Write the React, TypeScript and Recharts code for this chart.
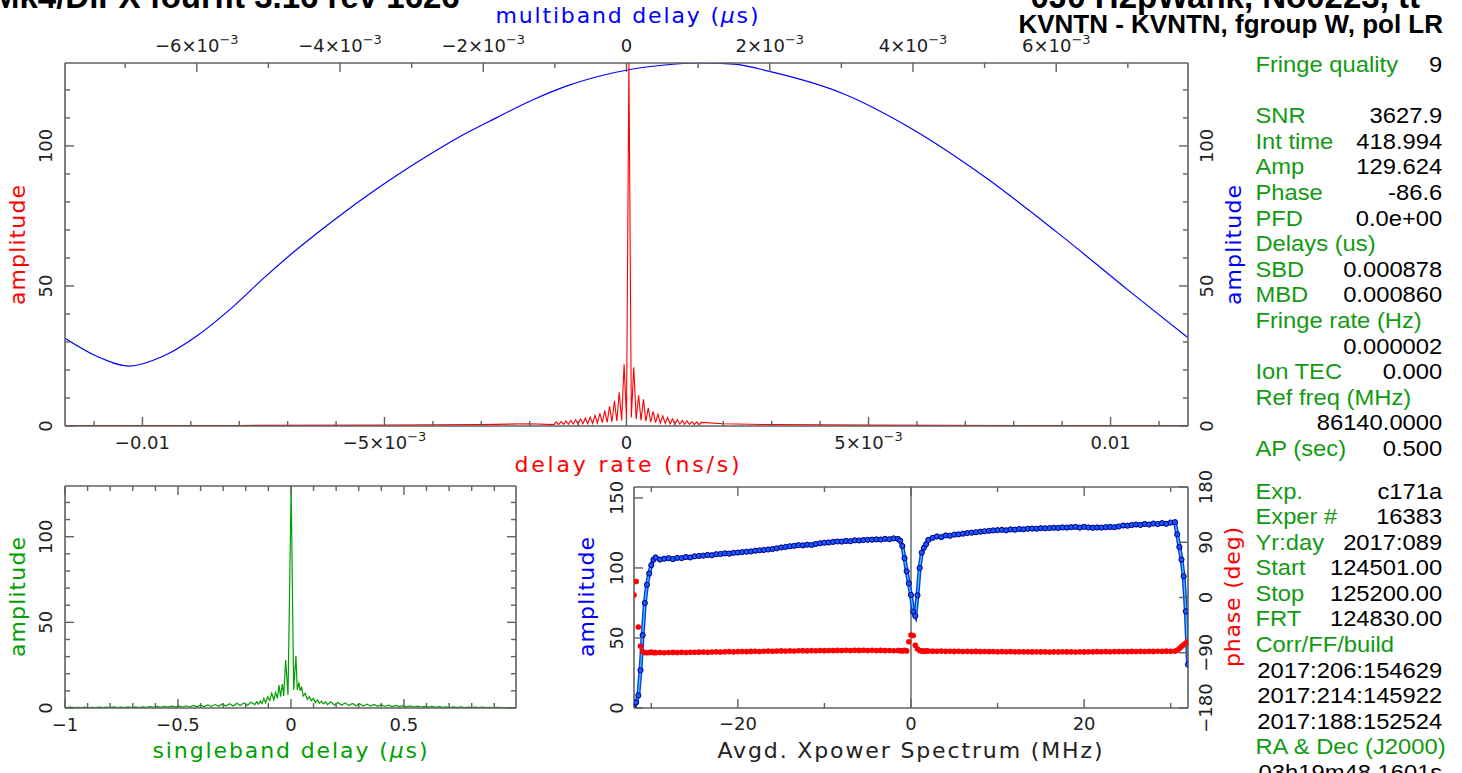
import React from 'react';
import { LineChart, Line, XAxis, YAxis, ReferenceLine, Label } from 'recharts';

const PG = '"DejaVu Sans", "Liberation Sans", sans-serif';
const HV = '"Liberation Sans", Arial, Helvetica, sans-serif';
const RED = '#ff0000';
const BLUE = '#0000ff';
const GREEN = '#00a000';
const TGREEN = '#139a13';
const AXIS = '#606060';
const TXT = '#222222';

// ---------------- main plot: delay rate (red) ----------------
const rateOuterLeftX = [-0.0116, -0.008, -0.005, -0.003, -0.002];
const rateOuterLeftAmp = [0.15, 0.2, 0.3, 0.5, 0.8];
const rateCenterStart = -0.0015;
const rateCenterStep = 0.00005;
const rateCenterAmp = [
  0.5, 1.5, 0.5, 1.6, 0.6, 1.8, 0.6, 2.0, 0.7, 2.2, 0.7, 2.5, 0.8, 2.8, 0.8, 3.2,
  0.9, 3.8, 1.0, 4.5, 1.2, 5.5, 1.3, 7.0, 1.5, 9.0, 1.8, 12.0, 2.0, 22.0, 2.5,
  129.6,
  3.0, 21.0, 2.5, 11.0, 2.0, 9.5, 1.7, 6.5, 1.4, 5.2, 1.2, 4.2, 1.0, 3.6, 0.9, 3.0,
  0.8, 2.6, 0.7, 2.3, 0.7, 2.0, 0.6, 1.8, 0.6, 1.6, 0.5, 1.5, 0.5, 1.3,
];
const rateOuterRightX = [0.002, 0.003, 0.005, 0.008, 0.0116];
const rateOuterRightAmp = [0.8, 0.5, 0.3, 0.2, 0.15];

// ---------------- main plot: multiband delay (blue) ----------------
const mbdX = [
  -0.00784, -0.00739, -0.00694, -0.00648, -0.00598, -0.00552, -0.00507, -0.00461, -0.00405,
  -0.00349, -0.00284, -0.00233, -0.00182, -0.00132, -0.00081, -0.0003, 0.00003, 0.0005, 0.00101,
  0.0015, 0.00201, 0.00301, 0.00401, 0.005, 0.006, 0.007, 0.00784,
];
const mbdAmp = [
  31.3, 24.8, 21.4, 24.8, 32.5, 42.0, 52.7, 62.9, 74.2, 84.6, 95.5, 103.3, 110.0, 116.3,
  121.6, 125.4, 127.2, 128.8, 129.6, 129.2, 126.5, 118.8, 105.7, 89.0, 69.4, 48.6, 31.5,
];

// ---------------- singleband delay (green) ----------------
const sbdLeftStart = -0.992;
const sbdStep = 0.016;
const sbdLeftAmp = [
  0.2, 0.5, 0.2, 0.4, 0.2, 0.5, 0.3, 0.4, 0.2, 0.5, 0.3, 0.5, 0.2, 0.6, 0.3, 0.5, 0.3, 0.6,
  0.3, 0.7, 0.3, 0.6, 0.4, 0.8, 0.4,
  0.9, 0.4, 1.0, 0.5, 1.1, 0.5, 1.2, 0.6, 1.3, 0.6, 1.5, 0.7, 1.6,
  0.8, 1.8, 0.9, 2.0, 1.0, 2.3, 1.1, 2.5, 1.2, 2.8, 1.4, 3.0, 1.6, 3.3,
];
const sbdCenterX = [
  -0.16, -0.152, -0.144, -0.136, -0.128, -0.12, -0.112, -0.103, -0.094, -0.085, -0.076,
  -0.068, -0.06, -0.053, -0.046, -0.038, -0.032, -0.0235, -0.013, 0.0009, 0.012, 0.022,
  0.028, 0.035, 0.041, 0.047, 0.054, 0.063, 0.072, 0.081, 0.09, 0.099, 0.108, 0.117, 0.126,
  0.135, 0.144, 0.153, 0.162,
];
const sbdCenterAmp = [
  2.0, 3.6, 2.2, 4.0, 2.6, 5.6, 3.1, 6.6, 4.3, 8.6, 4.7, 9.0, 5.6, 13.4, 6.6, 14.0, 7.0,
  28.0, 7.6, 129.6, 10.5, 30.5, 10.5, 15.0, 10.0, 12.5, 7.0, 8.6, 5.0, 6.6, 4.3, 5.6, 3.1,
  4.6, 2.7, 4.0, 2.4, 3.5, 2.0,
];
const sbdRightStart = 0.176;
const sbdRightAmp = [
  3.6, 1.8, 3.2, 1.6, 3.0, 1.5, 2.7, 1.3, 2.5, 1.2, 2.3, 1.1, 2.1, 1.0,
  1.9, 0.9, 1.7, 0.8, 1.5, 0.8, 1.4, 0.7, 1.2, 0.6, 1.1, 0.6, 1.0,
  0.5, 0.9, 0.4, 0.8, 0.4, 0.7, 0.3, 0.7, 0.3, 0.6, 0.3, 0.5, 0.3, 0.5, 0.2, 0.5, 0.2, 0.4,
  0.2, 0.4, 0.2, 0.3, 0.2, 0.3, 0.2,
];

// ---------------- cross-power spectrum ----------------
const lsbEdgeF = [-32, -31.75, -31.5, -31.25, -31, -30.75, -30.5, -30.25, -30, -29.75];
const lsbEdgeAmp = [0, 4, 9, 27, 52, 75, 88, 96, 102, 106];
const lsbEdgePh = [4, 26, -48, -79, -88, -90, -90, -89.5, -89, -90];
const platStep = 0.5;
const lsbPlatStart = -29.5;
const lsbPlatAmp = [
  107.5, 106.0, 106.6, 107.0, 106.3, 107.2, 107.0, 107.8, 107.5, 108.3,
  108.6, 108.8, 109.3, 109.1, 109.8, 110.0, 110.4, 110.2, 110.8, 111.0,
  111.3, 111.6, 111.8, 112.3, 112.6, 112.8, 113.2, 113.5, 114.0, 114.6,
  115.0, 115.5, 115.8, 116.3, 116.1, 116.6, 116.4, 117.1, 117.6, 118.0,
  118.2, 118.6, 118.9, 118.8, 119.3, 119.1, 119.7, 119.6, 119.9, 120.1,
  120.2, 120.4, 120.3, 120.8, 120.5, 121.1, 120.7,
];
const lsbPlatPh = [
  -89.8, -89.5, -90.0, -89.6, -89.4, -89.7, -89.2, -89.5, -89.1, -89.3,
  -89.0, -88.8, -89.1, -88.7, -88.5, -88.8, -88.4, -88.2, -88.5, -88.1,
  -87.9, -88.2, -87.8, -87.6, -87.9, -87.5, -87.3, -87.6, -87.2, -87.0,
  -87.3, -86.9, -87.1, -86.8, -86.6, -86.9, -86.5, -86.7, -86.4, -86.6,
  -86.3, -86.5, -86.2, -86.4, -86.1, -86.3, -86.0, -86.2, -86.0, -86.3,
  -86.1, -86.4, -86.2, -86.5, -86.3, -86.8, -86.4,
];
const dipF = [-1.25, -1.0, -0.75, -0.5, -0.25, 0, 0.25, 0.5, 0.75, 1.0, 1.25, 1.5, 1.75, 2.0];
const dipAmp = [119.5, 115.7, 107, 97.6, 89, 80.7, 68.8, 65.7, 80.5, 100, 111, 114.5, 117, 120];
const dipPh = [-86.5, -87, -86, -87, -72, -61, -62, -78, -84, -86.5, -87, -87.5, -87, -87.3];
const usbPlatStart = 2.5;
const usbPlatAmp = [
  121.5, 122.5, 122.0, 123.2, 123.0, 123.8, 124.0, 124.5, 124.9, 125.2,
  125.5, 125.9, 126.2, 126.5, 126.8, 127.0, 127.2, 126.9, 127.5, 127.3,
  127.8, 127.6, 128.0, 128.1, 128.0, 128.4, 128.3, 128.5, 128.7, 128.6,
  128.9, 128.8, 129.1, 129.3, 128.8, 129.4, 128.9, 128.7, 128.9, 128.8,
  129.1, 129.3, 129.1, 129.6, 130.3, 130.2, 130.6, 131.0, 130.7, 131.4,
  131.0, 131.7, 131.3, 132.0, 131.5, 132.4, 132.7,
];
const usbPlatPh = [
  -87.4, -87.6, -87.3, -87.7, -87.5, -87.8, -87.6, -87.9, -87.7, -88.0,
  -87.8, -88.1, -88.0, -88.2, -88.0, -88.3, -88.1, -88.4, -88.2, -88.5,
  -88.3, -88.5, -88.4, -88.6, -88.4, -88.6, -88.5, -88.7, -88.5, -88.6,
  -88.4, -88.6, -88.5, -88.7, -88.4, -88.6, -88.3, -88.5, -88.2, -88.4,
  -88.1, -88.3, -88.0, -88.2, -87.9, -88.1, -87.8, -88.0, -87.7, -87.9,
  -87.6, -87.8, -87.5, -87.7, -87.4, -87.6, -87.3,
];
const usbEdgeF = [30.75, 31, 31.25, 31.5, 31.75, 32];
const usbEdgeAmp = [124, 115, 106, 94, 69, 31];
const usbEdgePh = [-86, -83, -80, -77, -74, -72];

// ---------------- ticks ----------------
const rateTicks = [-0.011, -0.01, -0.009, -0.008, -0.007, -0.006, -0.005, -0.004, -0.003, -0.002, -0.001, 0, 0.001, 0.002, 0.003, 0.004, 0.005, 0.006, 0.007, 0.008, 0.009, 0.01, 0.011];
const rateMajors = [-0.01, -0.005, 0, 0.005, 0.01];
const rateLabels = [
  { v: -0.01, t: '−0.01' }, { v: -0.005, t: '−5×10', s: '−3' }, { v: 0, t: '0' },
  { v: 0.005, t: '5×10', s: '−3' }, { v: 0.01, t: '0.01' },
];
const mbdTicks = [-0.007, -0.006, -0.005, -0.004, -0.003, -0.002, -0.001, 0, 0.001, 0.002, 0.003, 0.004, 0.005, 0.006, 0.007];
const mbdMajors = [-0.006, -0.004, -0.002, 0, 0.002, 0.004, 0.006];
const mbdLabels = [
  { v: -0.006, t: '−6×10', s: '−3' }, { v: -0.004, t: '−4×10', s: '−3' }, { v: -0.002, t: '−2×10', s: '−3' },
  { v: 0, t: '0' }, { v: 0.002, t: '2×10', s: '−3' }, { v: 0.004, t: '4×10', s: '−3' }, { v: 0.006, t: '6×10', s: '−3' },
];
const ampTicks = [0, 10, 20, 30, 40, 50, 60, 70, 80, 90, 100, 110, 120];
const ampMajors = [0, 50, 100];
const ampLabels = [{ v: 0, t: '0' }, { v: 50, t: '50' }, { v: 100, t: '100' }];
const sbdTicks = [-1, -0.9, -0.8, -0.7, -0.6, -0.5, -0.4, -0.3, -0.2, -0.1, 0, 0.1, 0.2, 0.3, 0.4, 0.5, 0.6, 0.7, 0.8, 0.9];
const sbdMajors = [-1, -0.5, 0, 0.5];
const sbdLabels = [{ v: -1, t: '−1' }, { v: -0.5, t: '−0.5' }, { v: 0, t: '0' }, { v: 0.5, t: '0.5' }];
const specTicks = [-30, -20, -10, 0, 10, 20, 30];
const specMajors = [-20, 0, 20];
const specLabels = [{ v: -20, t: '−20' }, { v: 0, t: '0' }, { v: 20, t: '20' }];
const specAmpTicks = [0, 50, 100, 150];
const specAmpLabels = [{ v: 0, t: '0' }, { v: 50, t: '50' }, { v: 100, t: '100' }, { v: 150, t: '150' }];
const phaseTicks = [-180, -90, 0, 90, 180];
const phaseLabels = [{ v: -180, t: '−180' }, { v: -90, t: '−90' }, { v: 0, t: '0' }, { v: 90, t: '90' }, { v: 180, t: '180' }];

// ---------------- text panel ----------------
const panelTop = [
  ['Fringe quality', '9'], ['', ''], ['SNR', '3627.9'], ['Int time', '418.994'], ['Amp', '129.624'],
  ['Phase', '-86.6'], ['PFD', '0.0e+00'], ['Delays (us)', ''], ['SBD', '0.000878'], ['MBD', '0.000860'],
  ['Fringe rate (Hz)', ''], ['', '0.000002'], ['Ion TEC', '0.000'], ['Ref freq (MHz)', ''],
  ['', '86140.0000'], ['AP (sec)', '0.500'],
];
const panelBottom = [
  ['Exp.', 'c171a'], ['Exper #', '16383'], ['Yr:day', '2017:089'], ['Start', '124501.00'],
  ['Stop', '125200.00'], ['FRT', '124830.00'], ['Corr/FF/build', ''], ['', '2017:206:154629'],
  ['', '2017:214:145922'], ['', '2017:188:152524'], ['RA & Dec (J2000)', ''], ['', '03h19m48.1601s'],
];

// ---------------- build datasets ----------------
const grid = (start: number, step: number, n: number) => Array.from({ length: n }, (_, i) => +(start + i * step).toFixed(6));

const rateX = [...rateOuterLeftX, ...grid(rateCenterStart, rateCenterStep, rateCenterAmp.length), ...rateOuterRightX];
const rateY = [...rateOuterLeftAmp, ...rateCenterAmp, ...rateOuterRightAmp];
const rateData = rateX.map((rate, i) => ({ rate, amp: rateY[i] }));
const mbdData = mbdX.map((mbd, i) => ({ mbd, amp: mbdAmp[i] }));

const sbdX = [...grid(sbdLeftStart, sbdStep, sbdLeftAmp.length), ...sbdCenterX, ...grid(sbdRightStart, sbdStep, sbdRightAmp.length)];
const sbdY = [...sbdLeftAmp, ...sbdCenterAmp, ...sbdRightAmp];
const sbdData = sbdX.map((d, i) => ({ d, amp: sbdY[i] }));

const specF = [...lsbEdgeF, ...grid(lsbPlatStart, platStep, lsbPlatAmp.length), ...dipF, ...grid(usbPlatStart, platStep, usbPlatAmp.length), ...usbEdgeF];
const specA = [...lsbEdgeAmp, ...lsbPlatAmp, ...dipAmp, ...usbPlatAmp, ...usbEdgeAmp];
const specP = [...lsbEdgePh, ...lsbPlatPh, ...dipPh, ...usbPlatPh, ...usbEdgePh];
const specData = specF.map((f, i) => ({ f, amp: specA[i], ph: specP[i] }));

// ---------------- custom ticks ----------------
type Lab = { v: number; t: string; s?: string };
type Side = 'bottom' | 'top' | 'left' | 'right';
const near = (a: number, b: number) => Math.abs(a - b) < 1e-9;

function tickFactory(side: Side, majors: number[], labels: Lab[] | null, off: number, fs = 18, maj = 9, min = 5) {
  return function Tick(props: any) {
    const { x, y, payload } = props;
    const v = Number(payload.value);
    const isMaj = majors.some((m) => near(m, v));
    const len = isMaj ? maj : min;
    const lab = labels ? labels.find((l) => near(l.v, v)) : undefined;
    const content = lab ? (
      <>
        {lab.t}
        {lab.s ? <tspan dy={-8} fontSize={fs * 0.72}>{lab.s}</tspan> : null}
      </>
    ) : null;
    const common = { fill: TXT, fontFamily: PG, fontSize: fs, textAnchor: 'middle' as const };
    let line: React.ReactNode = null;
    let text: React.ReactNode = null;
    if (side === 'bottom') {
      line = <line x1={x} y1={y} x2={x} y2={y - len} stroke={AXIS} strokeWidth={1.4} />;
      if (lab) text = <text x={x} y={y + off} {...common}>{content}</text>;
    } else if (side === 'top') {
      line = <line x1={x} y1={y} x2={x} y2={y + len} stroke={AXIS} strokeWidth={1.4} />;
      if (lab) text = <text x={x} y={y - off} {...common}>{content}</text>;
    } else if (side === 'left') {
      line = <line x1={x} y1={y} x2={x + len} y2={y} stroke={AXIS} strokeWidth={1.4} />;
      if (lab) text = <text x={x - off} y={y} transform={`rotate(-90 ${x - off} ${y})`} {...common}>{content}</text>;
    } else {
      line = <line x1={x} y1={y} x2={x - len} y2={y} stroke={AXIS} strokeWidth={1.4} />;
      if (lab) text = <text x={x + off} y={y} transform={`rotate(-90 ${x + off} ${y})`} {...common}>{content}</text>;
    }
    return <g>{line}{text}</g>;
  };
}

const axisLine = { stroke: AXIS, strokeWidth: 1.6 };
const axisCommon = { tickLine: false, tickSize: 0, tickMargin: 0, interval: 0 as const, axisLine, allowDataOverflow: true };

const title = (txt: React.ReactNode, x: number, y: number, color: string, len: number, rot = false, size = 22) => (
  <Label
    content={() => (
      <text x={x} y={y} fill={color} fontFamily={PG} fontSize={size} textAnchor="middle" textLength={len} lengthAdjust="spacing"
        transform={rot ? `rotate(-90 ${x} ${y})` : undefined}>{txt}</text>
    )}
  />
);

function MainPlot() {
  return (
    <LineChart width={1262} height={485} margin={{ top: 0, right: 0, bottom: 0, left: 0 }}>
      <XAxis xAxisId="rate" dataKey="rate" type="number" orientation="bottom" height={59}
        domain={[-0.0116, 0.0116]} ticks={rateTicks} tick={tickFactory('bottom', rateMajors, rateLabels, 23)} {...axisCommon}>
        {title('delay rate (ns/s)', 627, 472, RED, 225)}
      </XAxis>
      <XAxis xAxisId="mbd" dataKey="mbd" type="number" orientation="top" height={63}
        domain={[-0.00784, 0.00784]} ticks={mbdTicks} tick={tickFactory('top', mbdMajors, mbdLabels, 11)} {...axisCommon}>
        {title(<>multiband delay (<tspan fontStyle="italic">μ</tspan>s)</>, 627, 23, BLUE, 263)}
      </XAxis>
      <YAxis yAxisId="L" orientation="left" width={65} type="number" domain={[0, 129.6]} ticks={ampTicks}
        tick={tickFactory('left', ampMajors, ampLabels, 13)} {...axisCommon}>
        {title('amplitude', 25, 245, RED, 120, true)}
      </YAxis>
      <YAxis yAxisId="R" orientation="right" width={74} type="number" domain={[0, 129.6]} ticks={ampTicks}
        tick={tickFactory('right', ampMajors, ampLabels, 25)} {...axisCommon}>
        {title('amplitude', 1241, 245, BLUE, 120, true)}
      </YAxis>
      <Line data={mbdData} xAxisId="mbd" yAxisId="R" dataKey="amp" type="monotone" stroke={BLUE} strokeWidth={1.2}
        dot={false} activeDot={false} isAnimationActive={false} />
      <Line data={rateData} xAxisId="rate" yAxisId="L" dataKey="amp" type="linear" stroke={RED} strokeWidth={1.1}
        dot={false} activeDot={false} isAnimationActive={false} />
    </LineChart>
  );
}

function SbdPlot() {
  return (
    <LineChart width={530} height={303} data={sbdData} margin={{ top: 0, right: 0, bottom: 0, left: 0 }}>
      <XAxis xAxisId="b" dataKey="d" type="number" orientation="bottom" height={65} domain={[-1, 0.996]}
        ticks={sbdTicks} tick={tickFactory('bottom', sbdMajors, sbdLabels, 23)} {...axisCommon}>
        {title(<>singleband delay (<tspan fontStyle="italic">μ</tspan>s)</>, 290, 288, GREEN, 275)}
      </XAxis>
      <XAxis xAxisId="t" dataKey="d" type="number" orientation="top" height={16} domain={[-1, 0.996]}
        ticks={sbdTicks} tick={tickFactory('top', sbdMajors, null, 0)} {...axisCommon} />
      <YAxis yAxisId="l" orientation="left" width={65} type="number" domain={[0, 129.6]} ticks={ampTicks}
        tick={tickFactory('left', ampMajors, ampLabels, 13)} {...axisCommon}>
        {title('amplitude', 25, 127, GREEN, 120, true)}
      </YAxis>
      <YAxis yAxisId="r" orientation="right" width={14} type="number" domain={[0, 129.6]} ticks={ampTicks}
        tick={tickFactory('right', ampMajors, null, 0)} {...axisCommon} />
      <Line xAxisId="b" yAxisId="l" dataKey="amp" type="linear" stroke={GREEN} strokeWidth={1.2}
        dot={false} activeDot={false} isAnimationActive={false} />
    </LineChart>
  );
}

function SpecPlot() {
  return (
    <LineChart width={700} height={303} data={specData} margin={{ top: 0, right: 0, bottom: 0, left: 0 }}>
      <XAxis xAxisId="b" dataKey="f" type="number" orientation="bottom" height={65} domain={[-32, 32]}
        ticks={specTicks} tick={tickFactory('bottom', specMajors, specLabels, 22)} {...axisCommon}>
        {title('Avgd. Xpower Spectrum (MHz)', 350, 288, TXT, 385)}
      </XAxis>
      <XAxis xAxisId="t" dataKey="f" type="number" orientation="top" height={17} domain={[-32, 32]}
        ticks={specTicks} tick={tickFactory('top', specMajors, null, 0)} {...axisCommon} />
      <YAxis yAxisId="amp" orientation="left" width={74} type="number" domain={[0, 157.8]} ticks={specAmpTicks}
        tick={tickFactory('left', specAmpTicks, specAmpLabels, 11)} {...axisCommon}>
        {title('amplitude', 34, 127, BLUE, 120, true)}
      </YAxis>
      <YAxis yAxisId="ph" orientation="right" width={72} type="number" domain={[-180, 180]} ticks={phaseTicks}
        tick={tickFactory('right', phaseTicks, phaseLabels, 24)} {...axisCommon}>
        {title('phase (deg)', 680, 127, RED, 140, true)}
      </YAxis>
      <ReferenceLine xAxisId="b" yAxisId="amp" x={0} stroke="#444444" strokeWidth={1.2} />
      <Line xAxisId="b" yAxisId="ph" dataKey="ph" type="linear" stroke="none" strokeWidth={0}
        dot={{ r: 2.8, fill: RED, stroke: RED, strokeWidth: 0 }} activeDot={false} isAnimationActive={false} />
      <Line xAxisId="b" yAxisId="amp" dataKey="amp" type="linear" stroke="#1438e0" strokeWidth={4}
        dot={{ r: 2.6, fill: '#1a55ff', stroke: '#00007a', strokeWidth: 1 }} activeDot={false} isAnimationActive={false} />
      <Line xAxisId="b" yAxisId="amp" dataKey="amp" type="linear" stroke="#22e0ff" strokeWidth={1.2}
        dot={false} activeDot={false} isAnimationActive={false} />
    </LineChart>
  );
}

function Panel({ rows, top }: { rows: string[][]; top: number }) {
  return (
    <div style={{ position: 'absolute', left: 1250, top, width: 178, transform: 'scaleX(1.08)', transformOrigin: 'left top',
      fontFamily: HV, fontSize: 22, lineHeight: '25.6px', whiteSpace: 'nowrap' }}>
      {rows.map(([k, v], i) => (
        <div key={i} style={{ position: 'relative', height: 25.6 }}>
          <span style={{ position: 'absolute', left: 5, color: TGREEN }}>{k}</span>
          <span style={{ position: 'absolute', right: 0, color: '#000' }}>{v}</span>
        </div>
      ))}
    </div>
  );
}

export default function App() {
  return (
    <div style={{ position: 'absolute', left: 0, top: 0, width: 1462, height: 773, overflow: 'hidden', background: '#fff' }}>
      <div style={{ position: 'absolute', left: -8, top: -20, fontFamily: HV, fontWeight: 'bold', fontSize: 33, lineHeight: '33px', whiteSpace: 'nowrap', color: '#000' }}>
        Mk4/DiFX fourfit  3.16 rev 1626
      </div>
      <div style={{ position: 'absolute', right: 42, top: -20, fontFamily: HV, fontWeight: 'bold', fontSize: 33, lineHeight: '33px', whiteSpace: 'nowrap', color: '#000' }}>
        0J0 H2pWank, No0223, tt
      </div>
      <div style={{ position: 'absolute', right: 19, top: 11, fontFamily: HV, fontWeight: 'bold', fontSize: 26, lineHeight: '26px', whiteSpace: 'nowrap', color: '#000' }}>
        KVNTN - KVNTN, fgroup W, pol LR
      </div>
      <div style={{ position: 'absolute', left: 0, top: 0 }}><MainPlot /></div>
      <div style={{ position: 'absolute', left: 0, top: 470 }}><SbdPlot /></div>
      <div style={{ position: 'absolute', left: 560, top: 470 }}><SpecPlot /></div>
      <Panel rows={panelTop} top={52} />
      <Panel rows={panelBottom} top={478.5} />
    </div>
  );
}
